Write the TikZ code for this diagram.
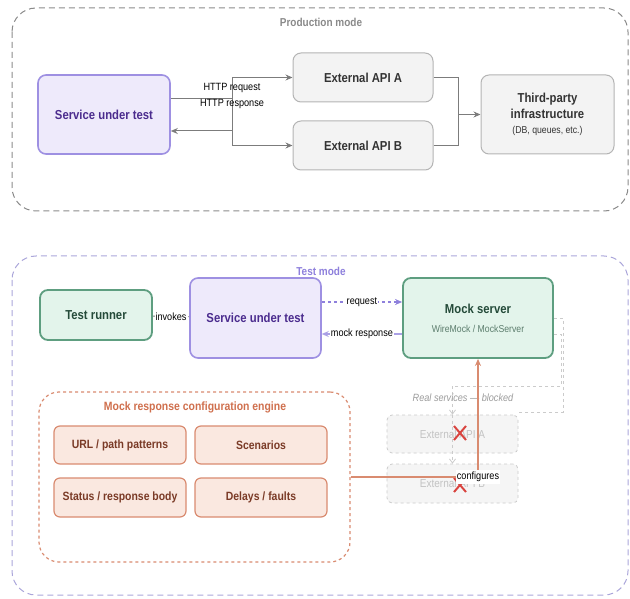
\documentclass[tikz,border=0pt]{standalone}
\usepackage{fontspec}
\setmainfont{Liberation Sans}[FakeStretch=0.87]
\usetikzlibrary{arrows.meta}
\definecolor{prodgray}{HTML}{8A8A8A}
\definecolor{testline}{HTML}{ABA6DA}
\definecolor{svcfill}{HTML}{EEEAFB}
\definecolor{svcline}{HTML}{9E90E2}
\definecolor{svctext}{HTML}{4B2C8E}
\definecolor{apifill}{HTML}{F3F3F3}
\definecolor{apiline}{HTML}{B4B4B4}
\definecolor{apitext}{HTML}{333333}
\definecolor{grfill}{HTML}{E3F4EB}
\definecolor{grline}{HTML}{5E9E80}
\definecolor{grtext}{HTML}{244A39}
\definecolor{grsub}{HTML}{5C7D6D}
\definecolor{cfgfill}{HTML}{FAE8E0}
\definecolor{cfgline}{HTML}{D98B70}
\definecolor{cfgtext}{HTML}{7A3A26}
\definecolor{cfgtitle}{HTML}{CF6F4D}
\definecolor{ghfill}{HTML}{F5F5F5}
\definecolor{ghline}{HTML}{CBCBCB}
\definecolor{ghtext}{HTML}{C2C2C2}
\definecolor{flowgray}{HTML}{7C7C7C}
\definecolor{mockflow}{HTML}{8E80DC}
\definecolor{crossred}{HTML}{D9443F}
\newcommand\boxfont{\fontsize{13}{16}\selectfont\bfseries}
\newcommand\subfont{\fontsize{12}{14}\selectfont\bfseries}
\newcommand\labfont{\fontsize{10.5}{12}\selectfont}

\begin{document}
\begin{tikzpicture}[x=1pt,y=-1pt,
    frame/.style={dash pattern=on 6pt off 4pt, line width=1pt, rounded corners=24pt},%
    svcbox/.style={draw=svcline, fill=svcfill, text=svctext, line width=1.6pt, rounded corners=8pt, align=center, font=\boxfont},%
    apibox/.style={draw=apiline, fill=apifill, text=apitext, line width=1pt, rounded corners=8pt, align=center, font=\boxfont},%
    greenbox/.style={draw=grline, fill=grfill, text=grtext, line width=1.8pt, rounded corners=8pt, align=center, font=\boxfont},%
    cfgbox/.style={draw=cfgline, fill=cfgfill, text=cfgtext, line width=1.2pt, rounded corners=6pt, minimum width=132, minimum height=38, font=\subfont},%
    ghostbox/.style={draw=ghline, fill=ghfill, text=ghtext, dashed, line width=0.8pt, rounded corners=5pt, minimum width=131, minimum height=38, font=\fontsize{11.5}{13}\selectfont},%
    flow/.style={draw=flowgray, line width=1pt, -{Stealth[length=7pt,width=6pt]}},%
    ghost/.style={draw=ghline, dashed, line width=0.8pt},%
    cross/.style={draw=crossred, line width=2pt},%
    lbl/.style={fill=white, inner sep=1pt, font=\labfont}]%
    \useasboundingbox (0,0) rectangle (630,599);%
    % production mode
    \draw[frame, draw=prodgray] (12,8) rectangle (628,211);%
    \node[text=prodgray, font=\fontsize{11.5}{13}\selectfont\bfseries] (prodlbl) at (321,22) {Production mode};%
    \node[svcbox, minimum width=132, minimum height=79] (svcA) at (104,114.5) {Service under test};%
    \node[apibox, minimum width=140, minimum height=49] (apiA) at (363,77.5) {External API A};%
    \node[apibox, minimum width=140, minimum height=49] (apiB) at (363,145.5) {External API B};%
    \node[apibox, minimum width=133, minimum height=79] (infra) at (547.5,114.5) {Third-party\\infrastructure\\[-1pt]{\fontsize{10}{12}\selectfont\mdseries (DB, queues, etc.)}};%
    \coordinate (split) at (232,99);%
    \coordinate (back) at (232,131);%
    \coordinate (join) at (458,114.5);%
    \draw[flow, -] (svcA.east |- split) -- (split);%
    \draw[flow] (split) |- (apiA.west);%
    \draw[flow] (split) |- (apiB.west);%
    \draw[flow] (back) -- (svcA.east |- back);%
    \node[font=\labfont] (reqlbl) at (232,88) {HTTP request};%
    \node[font=\labfont] (reslbl) at (232,104) {HTTP response};%
    \draw[flow, -] (apiA.east) -| (join);%
    \draw[flow, -] (apiB.east) -| (join);%
    \draw[flow] (join) -- (infra.west);%
    % test mode
    \draw[frame, draw=testline] (12,256) rectangle (628,595);%
    \node[text=mockflow, font=\fontsize{11.5}{13}\selectfont\bfseries] (testlbl) at (321,271) {Test mode};%
    \node[greenbox, minimum width=112, minimum height=50] (runner) at (96,315) {Test runner};%
    \node[svcbox, minimum width=131, minimum height=80] (svcB) at (255.5,318) {Service under test};%
    \node[greenbox, minimum width=150, minimum height=80] (mock) at (478,318) {Mock server\\[3pt]{\fontsize{10}{12}\selectfont\mdseries\color{grsub}WireMock / MockServer}};%
    \draw[flow] (runner) -- (svcB) node[lbl, midway] {invokes};%
    \coordinate (reqy) at (0,302);%
    \coordinate (resy) at (0,334);%
    \draw[flow, draw=mockflow, dashed, line width=1.3pt] (svcB.east |- reqy) -- (mock.west |- reqy) node[lbl, midway] {request};%
    \draw[flow, draw=mockflow!75, line width=1.3pt] (mock.west |- resy) -- (svcB.east |- resy) node[lbl, midway] {mock response};%
    % blocked real services
    \node[ghostbox] (fakeA) at (452.5,434) {External API A};%
    \node[ghostbox, minimum height=39] (fakeB) at (452.5,483.5) {External API B};%
    \coordinate (outA) at (563,318);%
    \coordinate (outB) at (561,386);%
    \draw[ghost] (mock.east |- outA) -- (outA) |- (fakeA.east |- 0,412);%
    \draw[ghost] (mock.east |- resy) -| (outB) -- (fakeA.north |- outB);%
    \draw[ghost, -{Straight Barb[length=4pt,width=6pt]}] (fakeA.north |- outB) -- (fakeA.north);%
    \draw[ghost, -{Straight Barb[length=4pt,width=6pt]}] (fakeA.north) -- (fakeB.north);%
    \node[text=ghtext!80!black, font=\labfont\itshape] (blocklbl) at (463,398) {Real services — blocked};%
    \draw[cross] (460,433) +(-6,-7) -- +(6,7) +(-6,7) -- +(6,-7);%
    \draw[cross] (460,485) +(-6,-7) -- +(6,7) +(-6,7) -- +(6,-7);%
    % configuration engine
    \node[draw=cfgline, dashed, line width=1.2pt, rounded corners=20pt, minimum width=311, minimum height=170] (engine) at (194.5,477) {};%
    \node[text=cfgtitle, font=\subfont] (englbl) at (195,407) {Mock response configuration engine};%
    \node[cfgbox] (urlbox) at (120,445) {URL / path patterns};%
    \node[cfgbox] (scenbox) at (261,445) {Scenarios};%
    \node[cfgbox, minimum height=39] (statbox) at (120,497.5) {Status / response body};%
    \node[cfgbox, minimum height=39] (delaybox) at (261,497.5) {Delays / faults};%
    \draw[flow, draw=cfgline, line width=1.4pt] (engine.east) -| (mock.south) node[lbl, pos=0.5, inner ysep=2pt] {configures};%
\end{tikzpicture}
\end{document}
